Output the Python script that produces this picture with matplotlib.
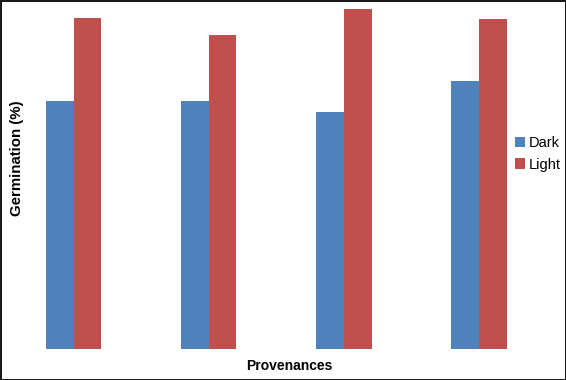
import numpy as np
import matplotlib
matplotlib.use('Agg')
import matplotlib.pyplot as plt

# data (no y scale shown, values are estimates in %)
provenances = ['P1', 'P2', 'P3', 'P4']
dark = [69.3, 69.3, 66.2, 74.9]
light = [92.5, 87.7, 95.0, 92.2]

fig = plt.figure(figsize=(5.66, 3.8), dpi=100, facecolor='white')
fig.patch.set_edgecolor('#1a1a1a')
fig.patch.set_linewidth(2.0)

# axes placed so bars land where they are in the reference
ax = fig.add_axes([40/566, 1-349/380, (513-40)/566, 340/380])
x = np.arange(len(provenances))
w = 0.205
ax.bar(x - w/2, dark, w, color='#4F81BD', label='Dark')
ax.bar(x + w/2, light, w, color='#C0504D', label='Light')

ax.set_xlim((40-73.5)/135.2, (513-73.5)/135.2)
ax.set_ylim(0, 95)
for s in ax.spines.values():
    s.set_visible(False)
ax.set_xticks([])
ax.set_yticks([])

fig.text(289/566, 1-366/380, 'Provenances', ha='center', va='center',
         fontsize=10, fontweight='bold', family='Liberation Sans')
fig.text(17/566, 1-158/380, 'Germination (%)', ha='center', va='center',
         rotation=90, fontsize=10.8, fontweight='bold', family='Liberation Sans')

fig.legend(loc='center left', bbox_to_anchor=(502/566, 1-154/380), frameon=False,
           handlelength=0.7, handleheight=0.7, handletextpad=0.25, labelspacing=0.5,
           prop={'family': 'Liberation Sans', 'size': 10.5})

fig.savefig('out.png', dpi=100, facecolor=fig.get_facecolor(),
            edgecolor=fig.get_edgecolor())
